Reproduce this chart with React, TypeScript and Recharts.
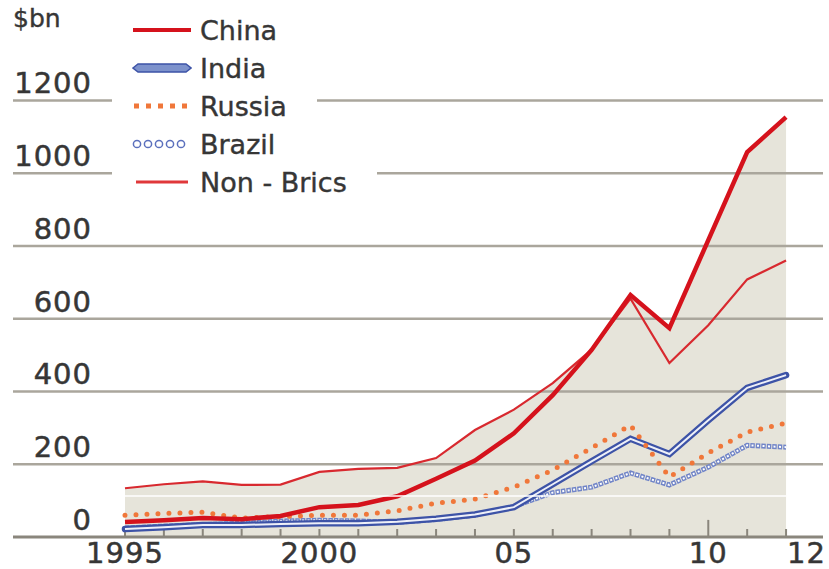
import { ComposedChart, Area, Line, XAxis, YAxis, ReferenceLine } from "recharts"

const years = [1995, 1996, 1997, 1998, 1999, 2000, 2001, 2002, 2003, 2004, 2005, 2006, 2007, 2008, 2009, 2010, 2011, 2012]
const china = [41, 46, 52, 49, 58, 82, 88, 112, 160, 210, 285, 390, 514, 665, 574, 816, 1058, 1154]
const india = [22, 27, 33, 33, 36, 38, 38, 42, 50, 62, 82, 145, 208, 270, 228, 321, 410, 445]
const russia = [60, 65, 68, 52, 56, 60, 60, 72, 93, 104, 137, 184, 245, 307, 165, 231, 288, 313]
const brazil = [25, 30, 34, 38, 44, 46, 44, 40, 48, 60, 84, 122, 137, 176, 143, 192, 252, 247]
const nonBrics = [134, 145, 153, 143, 144, 179, 187, 190, 217, 294, 350, 423, 515, 655, 478, 582, 708, 760]

const yTicks = [0, 200, 400, 600, 800, 1000, 1200]
const xLabels: Record<number, string> = { 1995: "1995", 2000: "2000", 2005: "05", 2010: "10", 2012: "12" }

const data = years.map((year, i) => ({
  year,
  china: china[i],
  india: india[i],
  russia: russia[i],
  brazil: brazil[i],
  nonBrics: nonBrics[i],
  shade: Math.max(china[i], nonBrics[i]),
}))

const FONT = "'DejaVu Sans', sans-serif"
const TEXT = "#363636"
const AXIS_Y = 537
const GRID = "#aaa69c"
const TICK = "#8a867c"

const RED = "#d5121c"
const RED_THIN = "#d8292f"
const ORANGE = "#f0773a"
const BLUE = "#3d53a7"
const BLUE_LIGHT = "#7185c8"

// value label sitting just above its gridline, right-aligned
const yLabel = (v: number) => (props: any) => {
  const y = props.viewBox?.y ?? 0
  return (
    <text
      x={92}
      y={y - 7}
      textAnchor="end"
      fontFamily={FONT}
      fontSize={29}
      letterSpacing={1}
      fill={TEXT}
      stroke={TEXT}
      strokeWidth={0.5}
    >
      {v}
    </text>
  )
}

function XTick({ x, payload }: any) {
  const yr = payload.value as number
  const label = xLabels[yr]
  if (!label) return null
  return (
    <text
      x={yr === 2012 ? x + 1 : x}
      y={AXIS_Y + 26}
      textAnchor={yr === 2012 ? "start" : "middle"}
      fontFamily={FONT}
      fontSize={29}
      letterSpacing={1}
      fill={TEXT}
      stroke={TEXT}
      strokeWidth={0.5}
    >
      {label}
    </text>
  )
}

const legendItems = [
  { name: "China", marker: <line x1={1} y1={7} x2={59} y2={7} stroke={RED} strokeWidth={4} /> },
  {
    name: "India",
    marker: <polygon points="1,7 6,3 54,3 59,7 54,11 6,11" fill="#7d92cc" stroke={BLUE} strokeWidth={1.5} />,
  },
  {
    name: "Russia",
    marker: <line x1={2} y1={7} x2={56} y2={7} stroke={ORANGE} strokeWidth={5} strokeDasharray="5 7" />,
  },
  {
    name: "Brazil",
    marker: (
      <g fill="none" stroke="#5b70bd" strokeWidth={1.5}>
        {[0, 1, 2, 3, 4].map((k) => (
          <circle key={k} cx={5 + k * 11} cy={7} r={3.6} />
        ))}
      </g>
    ),
  },
  { name: "Non - Brics", marker: <line x1={4} y1={7} x2={56} y2={7} stroke="#e0383a" strokeWidth={3} /> },
]

export default function App() {
  return (
    <div style={{ position: "relative", width: 829, height: 569, background: "#fff" }}>
      <style>{`body{margin:0}`}</style>
      <ComposedChart width={829} height={569} data={data} margin={{ top: 64, right: 6, bottom: 0, left: 13 }}>
        <XAxis
          dataKey="year"
          type="number"
          domain={[1992.12, 2012.95]}
          allowDataOverflow
          ticks={years}
          interval={0}
          height={32}
          axisLine={{ stroke: TICK, strokeWidth: 3 }}
          tickLine={false}
          tick={<XTick />}
        />
        <YAxis hide domain={[0, 1300]} ticks={yTicks} />
        <Area
          dataKey="shade"
          type="linear"
          fill="#e6e4da"
          fillOpacity={1}
          stroke="none"
          isAnimationActive={false}
          activeDot={false}
        />
        {yTicks.map((v) => (
          <ReferenceLine
            key={v}
            y={v}
            stroke={v === 0 ? "none" : GRID}
            strokeWidth={2.5}
            label={yLabel(v)}
          />
        ))}
        {/* small year ticks rising from the baseline, taller at 2010 */}
        {years.map((yr) => (
          <ReferenceLine
            key={`t${yr}`}
            segment={[{ x: yr, y: 0 }, { x: yr, y: yr === 2010 ? 47 : 22 }]}
            stroke={TICK}
            strokeWidth={2}
          />
        ))}
        {/* Brazil: chain of small rings */}
        <Line dataKey="brazil" type="linear" stroke={BLUE_LIGHT} strokeWidth={5} strokeDasharray="4.5 1" dot={false} activeDot={false} isAnimationActive={false} />
        <Line dataKey="brazil" type="linear" stroke="#fff" strokeWidth={2} strokeDasharray="2 3.5" strokeDashoffset={-1.25} dot={false} activeDot={false} isAnimationActive={false} />
        {/* India: double blue line */}
        <Line dataKey="india" type="linear" stroke={BLUE} strokeWidth={6.5} strokeLinecap="round" dot={false} activeDot={false} isAnimationActive={false} />
        <Line dataKey="india" type="linear" stroke="#eef0f8" strokeWidth={2} dot={false} activeDot={false} isAnimationActive={false} />
        <Line dataKey="russia" type="linear" stroke={ORANGE} strokeWidth={5} strokeDasharray="0 11" strokeLinecap="round" dot={false} activeDot={false} isAnimationActive={false} />
        <Line dataKey="nonBrics" type="linear" stroke={RED_THIN} strokeWidth={2.2} dot={false} activeDot={false} isAnimationActive={false} />
        <Line dataKey="china" type="linear" stroke={RED} strokeWidth={4.5} strokeLinejoin="miter" dot={false} activeDot={false} isAnimationActive={false} />
        <ReferenceLine segment={[{ x: 1995, y: 113 }, { x: 2012, y: 113 }]} stroke="#fff" strokeWidth={1.5} />
      </ComposedChart>

      <div
        style={{
          position: "absolute",
          left: 13,
          top: 4,
          fontFamily: FONT,
          fontSize: 25,
          color: TEXT,
          WebkitTextStroke: `0.4px ${TEXT}`,
        }}
      >
        $bn
      </div>

      <div style={{ position: "absolute", left: 112, top: 11 }}>
        {legendItems.map((item) => (
          <div
            key={item.name}
            style={{
              display: "flex",
              alignItems: "center",
              height: 38,
              width: "fit-content",
              background: "#fff",
              paddingLeft: 20,
              paddingRight: 30,
              fontFamily: FONT,
              fontSize: 27,
              color: TEXT,
              WebkitTextStroke: `0.4px ${TEXT}`,
            }}
          >
            <svg width={60} height={14} style={{ marginRight: 8 }}>
              {item.marker}
            </svg>
            <span>{item.name}</span>
          </div>
        ))}
      </div>
    </div>
  )
}
